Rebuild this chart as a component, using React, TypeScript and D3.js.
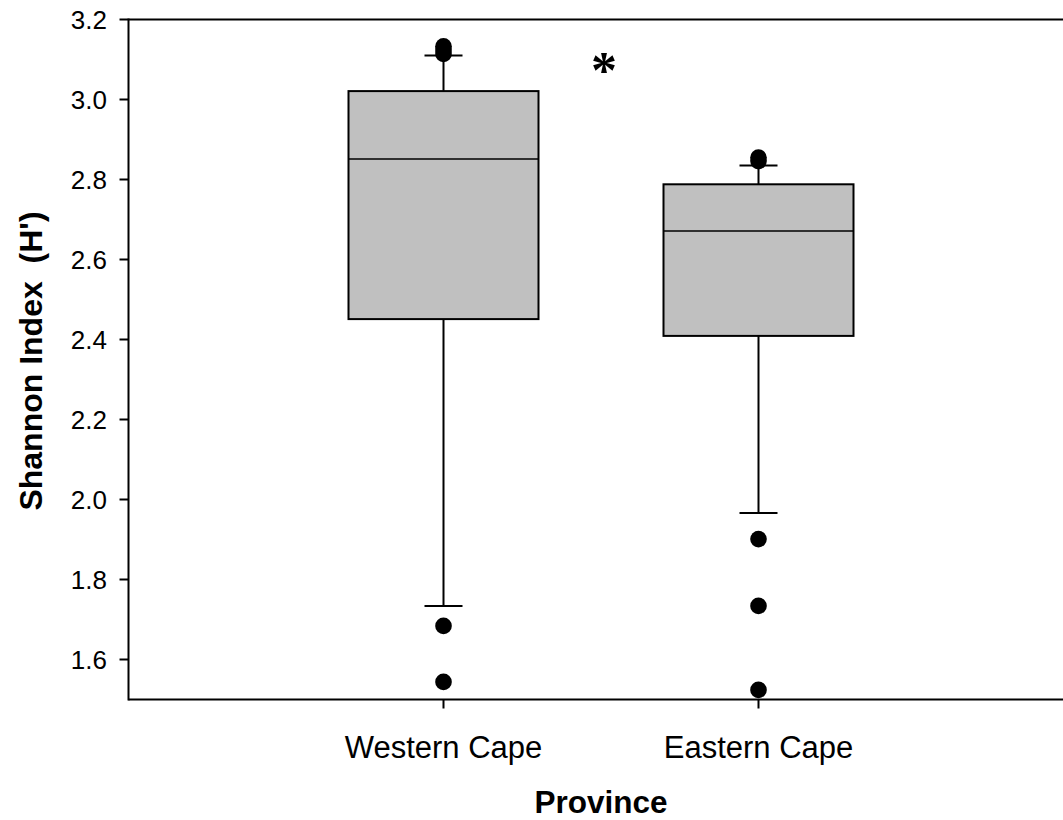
import React from "react";
import * as d3 from "d3";

// Shannon diversity (H') per province: box summaries and outlying samples
const provinces = ["Western Cape", "Eastern Cape"];
const q1 = [2.451, 2.409];
const medians = [2.851, 2.671];
const q3 = [3.021, 2.788];
const whiskerLow = [1.734, 1.966];
const whiskerHigh = [3.11, 2.835];
const outliersWestern = [3.133, 3.124, 3.114, 1.684, 1.544];
const outliersEastern = [2.855, 2.846, 1.901, 1.734, 1.524];
const yTicks = [1.6, 1.8, 2.0, 2.2, 2.4, 2.6, 2.8, 3.0, 3.2];

const W = 1063;
const H = 820;
const FONT = "'Liberation Sans', Arial, sans-serif";

export default function App() {
  const x = d3.scaleLinear().domain([0, 3]).range([128.5, 1073.5]);
  const y = d3.scaleLinear().domain([1.5, 3.2]).range([699.5, 19.5]);
  const left = x(0);
  const top = y(3.2);
  const bottom = y(1.5);
  const boxHalf = 95;
  const capHalf = 19;
  const outliers = [outliersWestern, outliersEastern];

  return (
    <svg
      width={W}
      height={H}
      style={{ position: "absolute", left: 0, top: 0, display: "block", background: "#fff" }}
      fontFamily={FONT}
    >
      {/* boxes */}
      {provinces.map((p, i) => {
        const cx = x(i + 1);
        return (
          <g key={p}>
            <line x1={cx} x2={cx} y1={y(q3[i])} y2={y(whiskerHigh[i])} stroke="#000" strokeWidth={2} />
            <line x1={cx - capHalf} x2={cx + capHalf} y1={y(whiskerHigh[i])} y2={y(whiskerHigh[i])} stroke="#000" strokeWidth={2} />
            <line x1={cx} x2={cx} y1={y(q1[i])} y2={y(whiskerLow[i])} stroke="#000" strokeWidth={2} />
            <line x1={cx - capHalf} x2={cx + capHalf} y1={y(whiskerLow[i])} y2={y(whiskerLow[i])} stroke="#000" strokeWidth={2} />
            <rect
              x={cx - boxHalf}
              y={y(q3[i])}
              width={boxHalf * 2}
              height={y(q1[i]) - y(q3[i])}
              fill="#c0c0c0"
              stroke="#000"
              strokeWidth={2}
            />
            <line x1={cx - boxHalf} x2={cx + boxHalf} y1={y(medians[i])} y2={y(medians[i])} stroke="#000" strokeWidth={1.5} />
            {outliers[i].map((v, j) => (
              <circle key={j} cx={cx} cy={y(v)} r={8.3} fill="#000" />
            ))}
          </g>
        );
      })}

      {/* axes frame */}
      <line x1={left} x2={W} y1={top} y2={top} stroke="#000" strokeWidth={2} />
      <line x1={left} x2={W} y1={bottom} y2={bottom} stroke="#000" strokeWidth={2} />
      <line x1={left} x2={left} y1={top - 1} y2={bottom + 1} stroke="#000" strokeWidth={2} />

      {/* y ticks */}
      {yTicks.map((t) => (
        <g key={t}>
          <line x1={left - 9} x2={left} y1={y(t)} y2={y(t)} stroke="#000" strokeWidth={2} />
          <text x={107} y={y(t)} dy="0.35em" textAnchor="end" fontSize={26} fill="#000">
            {d3.format(".1f")(t)}
          </text>
        </g>
      ))}

      {/* x ticks */}
      {provinces.map((p, i) => (
        <g key={p}>
          <line x1={x(i + 1)} x2={x(i + 1)} y1={bottom} y2={bottom + 9} stroke="#000" strokeWidth={2} />
          <text x={x(i + 1)} y={758} textAnchor="middle" fontSize={31} fill="#000">
            {p}
          </text>
        </g>
      ))}

      {/* significance marker */}
      <text x={604} y={88} textAnchor="middle" fontSize={52} fontWeight="bold" fontFamily="'Liberation Serif', serif" fill="#000">
        *
      </text>

      {/* axis titles */}
      <text x={601} y={813} textAnchor="middle" fontSize={31.5} fontWeight="bold" fill="#000">
        Province
      </text>
      <text
        transform={`translate(42, 361) rotate(-90)`}
        textAnchor="middle"
        fontSize={32}
        fontWeight="bold"
        fill="#000"
        style={{ whiteSpace: "pre" }}
      >
        {"Shannon Index  (H')"}
      </text>
    </svg>
  );
}
